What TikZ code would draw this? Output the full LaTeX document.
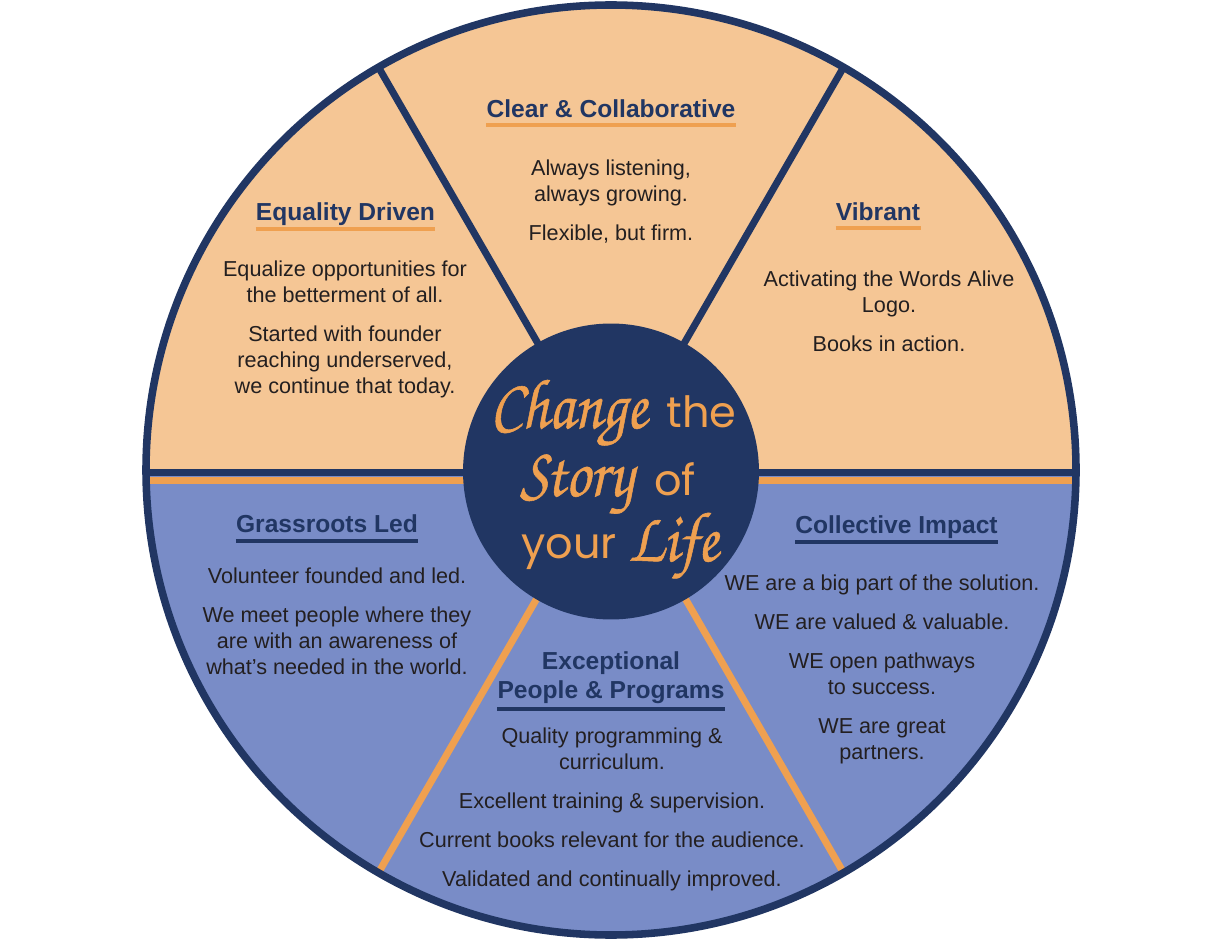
\documentclass[tikz,border=0pt]{standalone}
\usepackage{fontspec}
\usepackage{graphicx}
\setmainfont{Liberation Sans}
\newfontfamily\scriptfnt[FakeBold=0.8]{texgyrechorus-mediumitalic.otf}
\newfontfamily\popfnt{Poppins}
\usetikzlibrary{calc}
\definecolor{peach}{HTML}{F5C695}
\definecolor{wblue}{HTML}{798CC7}
\definecolor{navy}{HTML}{213663}
\definecolor{worange}{HTML}{EFA050}
\definecolor{ink}{HTML}{231F20}
\tikzset{
  bodytxt/.style={font=\fontsize{12.3}{14.8}\selectfont, text=ink, inner sep=0pt, anchor=base},
  titletxt/.style={font=\fontsize{14}{16.5}\selectfont\bfseries, text=navy, inner sep=0pt, anchor=base},
  ulorange/.style={draw=worange, line width=2.8pt},
  ulnavy/.style={draw=navy, line width=2.8pt},
  scripttxt/.style={font=\fontsize{36}{40}\selectfont\scriptfnt, text=worange, inner sep=0pt, anchor=base west},
  plaintxt/.style={font=\fontsize{24.5}{28}\selectfont\popfnt, text=worange, inner sep=0pt, anchor=base west},
  navyline/.style={draw=navy, line width=4pt},
  orangeline/.style={draw=worange, line width=4pt},
}
\newcommand\bodyline[4]{\node[bodytxt] (#1) at (#2,#3) {#4};}
\newcommand\titleline[6]{\node[titletxt] (#1) at (#2,#3) {#4};
  \draw[#5] ($(#1.base west)+(0,#6)$) -- ($(#1.base east)+(0,#6)$);}
\newcommand\tallscript[1]{\scalebox{0.96}[1.12]{#1}}
\begin{document}
\begin{tikzpicture}[x=0.02cm,y=-0.02cm]
\useasboundingbox (0,0) rectangle (1223,945);
\coordinate (c) at (611,470);
\coordinate (sepL1) at (100,472.5);
\coordinate (sepR1) at (1120,472.5);
\coordinate (sepL2) at (100,480.5);
\coordinate (sepR2) at (1120,480.5);
\coordinate (sp1) at ($(c)+(-60:490)$);
\coordinate (sp2) at ($(c)+(-120:490)$);
\coordinate (sp3) at ($(c)+(60:490)$);
\coordinate (sp4) at ($(c)+(120:490)$);
\begin{scope}
  \clip (c) circle[radius=465];
  \fill[peach] (100,0) rectangle (1120,476);
  \fill[wblue] (100,476) rectangle (1120,945);
  \draw[navyline] (sepL1) -- (sepR1);
  \draw[orangeline] (sepL2) -- (sepR2);
  \draw[navyline] (c) -- (sp1);
  \draw[navyline] (c) -- (sp2);
  \draw[orangeline] (c) -- (sp3);
  \draw[orangeline] (c) -- (sp4);
\end{scope}
\draw[navy, line width=4.3pt] (c) circle[radius=465];
\node[circle, fill=navy, minimum size=5.92cm, inner sep=0pt] (hub) at (611,471.5) {};

% centre text
\node[scripttxt] (chg) at (490,428) {\tallscript{Change}};
\node[plaintxt] (the) at (666,428) {the};
\node[scripttxt] (sty) at (520,496) {\tallscript{Story}};
\node[plaintxt] (of) at (654,495) {of};
\node[plaintxt] (your) at (521,558) {your};
\node[scripttxt] (life) at (628,561) {\tallscript{Life}};

% Clear & Collaborative
\titleline{t1}{611}{118}{Clear \& Collaborative}{ulorange}{7}
\bodyline{a1}{611}{176}{Always listening,}
\bodyline{a2}{611}{202}{always growing.}
\bodyline{a3}{611}{241}{Flexible, but firm.}

% Equality Driven
\titleline{t2}{345.5}{221}{Equality Driven}{ulorange}{8}
\bodyline{b1}{345}{277}{Equalize opportunities for}
\bodyline{b2}{345}{303}{the betterment of all.}
\bodyline{b3}{345}{342}{Started with founder}
\bodyline{b4}{345}{368}{reaching underserved,}
\bodyline{b5}{345}{394}{we continue that today.}

% Vibrant
\titleline{t3}{878}{221}{Vibrant}{ulorange}{7}
\bodyline{v1}{889}{287}{Activating the Words Alive}
\bodyline{v2}{889}{313}{Logo.}
\bodyline{v3}{889}{352}{Books in action.}

% Grassroots Led
\titleline{t4}{327}{532}{Grassroots Led}{ulnavy}{9}
\bodyline{g1}{337}{583}{Volunteer founded and led.}
\bodyline{g2}{337}{622}{We meet people where they}
\bodyline{g3}{337}{648}{are with an awareness of}
\bodyline{g4}{337}{674}{what’s needed in the world.}

% Collective Impact
\titleline{t5}{896.5}{533}{Collective Impact}{ulnavy}{9}
\bodyline{c1}{882}{590}{WE are a big part of the solution.}
\bodyline{c2}{882}{629}{WE are valued \& valuable.}
\bodyline{c3}{882}{668}{WE open pathways}
\bodyline{c4}{882}{694}{to success.}
\bodyline{c5}{882}{733}{WE are great}
\bodyline{c6}{882}{759}{partners.}

% Exceptional People & Programs
\node[titletxt] (t6a) at (611,669) {Exceptional};
\titleline{t6}{611}{698}{People \& Programs}{ulnavy}{11}
\bodyline{e1}{612}{743}{Quality programming \&}
\bodyline{e2}{612}{769}{curriculum.}
\bodyline{e3}{612}{808}{Excellent training \& supervision.}
\bodyline{e4}{612}{847}{Current books relevant for the audience.}
\bodyline{e5}{612}{886}{Validated and continually improved.}
\end{tikzpicture}
\end{document}
